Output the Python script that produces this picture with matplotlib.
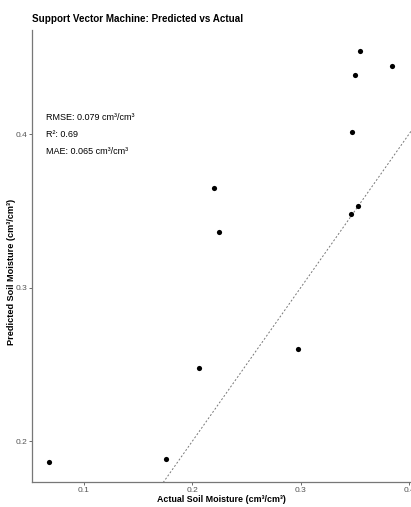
import matplotlib
matplotlib.use("Agg")
import matplotlib.pyplot as plt

plt.rcParams['font.family'] = ['Liberation Sans', 'DejaVu Sans']

# actual vs predicted soil moisture (cm3/cm3)
actual = [0.0677, 0.1756, 0.206, 0.2972, 0.2198, 0.2244,
          0.355, 0.3845, 0.3504, 0.3476, 0.3525, 0.3467]
predicted = [0.1863, 0.1883, 0.2479, 0.2603, 0.3648, 0.3362,
             0.4543, 0.4443, 0.4382, 0.4015, 0.3533, 0.3479]
xticks = [0.1, 0.2, 0.3, 0.4]
yticks = [0.2, 0.3, 0.4]
stats = ["RMSE: 0.079 cm³/cm³", "R²: 0.69", "MAE: 0.065 cm³/cm³"]

fig = plt.figure(figsize=(4.11, 5.07), dpi=100)
ax = fig.add_axes([0.078, 0.049, 0.922, 0.892])

lo, hi = 0.05, 0.48
ax.plot([lo, hi], [lo, hi], linestyle=(0, (2, 2)), color='#777777', linewidth=0.7)
ax.scatter(actual, predicted, s=14, color='black', zorder=3, linewidths=0)

ax.set_xlim(0.052, 0.4018)
ax.set_ylim(0.1733, 0.4678)
ax.set_xticks(xticks)
ax.set_yticks(yticks)
ax.set_xticklabels([str(t) for t in xticks])
ax.set_yticklabels([str(t) for t in yticks])
ax.tick_params(labelsize=6, colors='#555555', length=2, width=0.6, pad=1.5)
for s in ['top', 'right']:
    ax.spines[s].set_visible(False)
for s in ['left', 'bottom']:
    ax.spines[s].set_color('#777777')
    ax.spines[s].set_linewidth(0.9)

ax.set_xlabel("Actual Soil Moisture (cm³/cm³)", fontsize=6.4, fontweight='bold', labelpad=1)
ax.set_ylabel("Predicted Soil Moisture (cm³/cm³)", fontsize=6.6, fontweight='bold')
ax.yaxis.set_label_coords(-0.042, 0.465)
fig.text(0.078, 0.963, "Support Vector Machine: Predicted vs Actual",
         fontsize=7.1, fontweight='bold', va='center', ha='left')

for i, line in enumerate(stats):
    ax.text(0.0645, 0.4109 - i * 0.0111, line, fontsize=6.5, va='center', ha='left')

fig.savefig("out.png", dpi=100)
